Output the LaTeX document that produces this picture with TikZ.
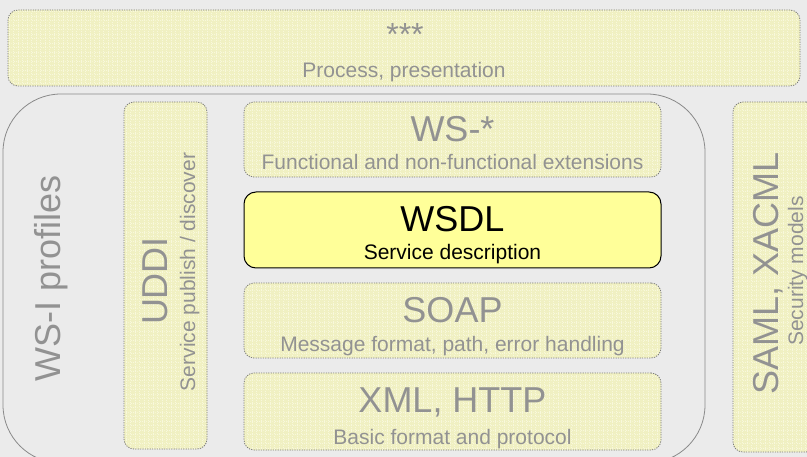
\documentclass[tikz,border=0pt]{standalone}
\usepackage{fontspec}
\setmainfont{Liberation Sans}
\usetikzlibrary{patterns.meta}
\definecolor{bg}{HTML}{EBEBEB}
\definecolor{palefill}{HTML}{F0F0C2}
\definecolor{palegrid}{HTML}{F8F8DC}
\definecolor{paleline}{HTML}{7C7C7C}
\definecolor{paletext}{HTML}{929292}
\definecolor{wsdlfill}{HTML}{FFFF99}
\definecolor{outerline}{HTML}{8A8A8A}
\tikzset{
  palebox/.style={preaction={fill=palefill}, pattern={Hatch[angle=0,distance=4.5pt,line width=0.6pt]}, pattern color=palegrid, draw=paleline, line width=0.8pt, dash pattern=on 1.2pt off 1.2pt, rounded corners=10pt, inner sep=0pt, outer sep=0pt},
  hotbox/.style={draw=black, fill=wsdlfill, line width=1pt, rounded corners=12pt, inner sep=0pt, outer sep=0pt},
  outerbox/.style={draw=outerline, line width=0.8pt, rounded corners=58pt, inner sep=0pt, outer sep=0pt},
  ttl/.style={anchor=base, inner sep=0pt, outer sep=0pt, text=paletext, font=\fontsize{36}{40}\selectfont},
  sub/.style={anchor=base, inner sep=0pt, outer sep=0pt, text=paletext, font=\fontsize{21}{24}\selectfont},
}
\begin{document}
\begin{tikzpicture}[x=1pt,y=-1pt]
\useasboundingbox (0,0) rectangle (807,457);
\clip (0,0) rectangle (807,457);
\fill[bg] (0,0) rectangle (807,457);
% outer WS-I profiles frame
\node[outerbox, minimum width=702pt, minimum height=369pt] (wsi) at (354,278.5) {};
% top box
\node[palebox, minimum width=792pt, minimum height=76pt] (top) at (404,48) {};
\node[ttl, font=\fontsize{32}{36}\selectfont] (toptitle) at (405,46) {***};
\node[sub] (topsub) at (404,78) {Process, presentation};
% central stack
\node[palebox, minimum width=417pt, minimum height=75pt] (ws) at (452.5,139.5) {};
\node[ttl] (wstitle) at (452.5,142) {WS-*};
\node[sub] (wssub) at (452.5,170) {Functional and non-functional extensions};
\node[hotbox, minimum width=417pt, minimum height=76pt] (wsdl) at (452.5,230) {};
\node[ttl, text=black] (wsdltitle) at (452.5,232) {WSDL};
\node[sub, text=black] (wsdlsub) at (452.5,260) {Service description};
\node[palebox, minimum width=417pt, minimum height=75pt] (soap) at (452.5,320.5) {};
\node[ttl] (soaptitle) at (452.5,323) {SOAP};
\node[sub] (soapsub) at (452.5,352) {Message format, path, error handling};
\node[palebox, minimum width=417pt, minimum height=77pt] (xml) at (452.5,411.5) {};
\node[ttl] (xmltitle) at (452.5,413) {XML, HTTP};
\node[sub] (xmlsub) at (452.5,444) {Basic format and protocol};
% UDDI column
\node[palebox, minimum width=83pt, minimum height=347pt] (uddi) at (165.5,275.5) {};
\node[ttl, rotate=90] (uddititle) at (167,281) {UDDI};
\node[sub, rotate=90] (uddisub) at (195,272) {Service publish / discover};
% WS-I label
\node[ttl, rotate=90] (wsititle) at (60,278) {WS-I profiles};
% SAML column
\node[palebox, minimum width=83pt, minimum height=350pt] (saml) at (774.5,277) {};
\node[ttl, rotate=90] (samltitle) at (778,273) {SAML, XACML};
\node[sub, rotate=90] (samlsub) at (803,271) {Security models};
\end{tikzpicture}
\end{document}
